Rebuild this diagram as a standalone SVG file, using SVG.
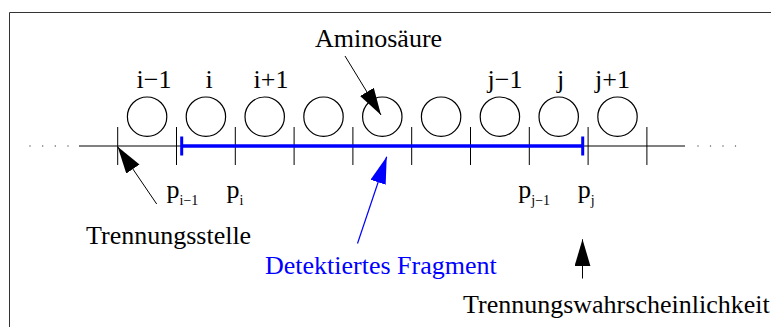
<svg xmlns="http://www.w3.org/2000/svg" width="771" height="327" viewBox="0 0 771 327">
<style>
text{font-family:"Liberation Serif","Times New Roman",serif;font-size:26px;fill:#000}
.lbl{text-anchor:middle}
.blue{fill:#0000ff}
.sub{font-size:14px}
.tick{stroke:#000;stroke-width:1}
.res{fill:none;stroke:#000;stroke-width:1.2}
.dot{fill:#555}
</style>
<defs>
<marker id="ah" markerUnits="userSpaceOnUse" markerWidth="28" markerHeight="18" refX="27" refY="8" orient="auto"><path d="M0,0 L27,8 L0,16 z" fill="#000"/></marker>
<marker id="ahb" markerUnits="userSpaceOnUse" markerWidth="28" markerHeight="18" refX="27" refY="8" orient="auto"><path d="M0,0 L27,8 L0,16 z" fill="#0000ff"/></marker>
</defs>
<path d="M9.5,327 V12.5 H771" fill="none" stroke="#333" stroke-width="1"/>
<g id="backbone">
<line x1="79" y1="146" x2="685" y2="146" stroke="#000" stroke-width="1"/>
<circle class="dot" cx="30" cy="146" r="0.7"/><circle class="dot" cx="42.7" cy="146" r="0.7"/><circle class="dot" cx="55.3" cy="146" r="0.7"/><circle class="dot" cx="68" cy="146" r="0.7"/>
<circle class="dot" cx="698" cy="146" r="0.7"/><circle class="dot" cx="710.5" cy="146" r="0.7"/><circle class="dot" cx="723" cy="146" r="0.7"/><circle class="dot" cx="735.5" cy="146" r="0.7"/>
<line class="tick" x1="117.7" y1="127" x2="117.7" y2="165"/>
<line class="tick" x1="176.5" y1="127" x2="176.5" y2="165"/>
<line class="tick" x1="235.3" y1="127" x2="235.3" y2="165"/>
<line class="tick" x1="294.1" y1="127" x2="294.1" y2="165"/>
<line class="tick" x1="352.9" y1="127" x2="352.9" y2="165"/>
<line class="tick" x1="411.7" y1="127" x2="411.7" y2="165"/>
<line class="tick" x1="470.5" y1="127" x2="470.5" y2="165"/>
<line class="tick" x1="529.3" y1="127" x2="529.3" y2="165"/>
<line class="tick" x1="588.1" y1="127" x2="588.1" y2="165"/>
<line class="tick" x1="646.9" y1="127" x2="646.9" y2="165"/>
</g>
<g id="residues">
<circle class="res" cx="147.1" cy="116.7" r="19.7"/>
<circle class="res" cx="205.9" cy="116.7" r="19.7"/>
<circle class="res" cx="264.7" cy="116.7" r="19.7"/>
<circle class="res" cx="323.5" cy="116.7" r="19.7"/>
<circle class="res" cx="382.3" cy="116.7" r="19.7"/>
<circle class="res" cx="441.1" cy="116.7" r="19.7"/>
<circle class="res" cx="499.9" cy="116.7" r="19.7"/>
<circle class="res" cx="558.7" cy="116.7" r="19.7"/>
<circle class="res" cx="617.5" cy="116.7" r="19.7"/>
</g>
<g id="residue-labels">
<text class="lbl" x="154" y="88">i−1</text>
<text class="lbl" x="209" y="88">i</text>
<text class="lbl" x="271" y="88">i+1</text>
<text class="lbl" x="505" y="88">j−1</text>
<text class="lbl" x="560.5" y="88">j</text>
<text class="lbl" x="612.5" y="88">j+1</text>
</g>
<g id="fragment">
<line x1="181.7" y1="146" x2="582.7" y2="146" stroke="#0000ff" stroke-width="3.5"/>
<line x1="181.7" y1="136.5" x2="181.7" y2="155.5" stroke="#0000ff" stroke-width="3"/>
<line x1="582.7" y1="136.5" x2="582.7" y2="155.5" stroke="#0000ff" stroke-width="3"/>
</g>
<g id="p-labels">
<text x="166.5" y="198">p<tspan class="sub" dy="7">i−1</tspan></text>
<text x="226.5" y="198">p<tspan class="sub" dy="7">i</tspan></text>
<text x="518.3" y="198">p<tspan class="sub" dy="7">j−1</tspan></text>
<text x="577.7" y="198">p<tspan class="sub" dy="7">j</tspan></text>
</g>
<g id="connectors">
<line x1="345" y1="56" x2="381" y2="115" stroke="#000" stroke-width="1" marker-end="url(#ah)"/>
<line x1="156.7" y1="204" x2="117.7" y2="146.7" stroke="#000" stroke-width="1" marker-end="url(#ah)"/>
<line x1="357.5" y1="243.5" x2="386.7" y2="156.7" stroke="#0000ff" stroke-width="1.2" marker-end="url(#ahb)"/>
<line x1="582.5" y1="278.5" x2="582.5" y2="239.3" stroke="#000" stroke-width="1" marker-end="url(#ah)"/>
</g>
<g id="annotations">
<text x="315" y="47">Aminosäure</text>
<text x="86" y="244">Trennungsstelle</text>
<text class="blue" x="265" y="274">Detektiertes Fragment</text>
<text x="463" y="313">Trennungswahrscheinlichkeit</text>
</g>
</svg>
